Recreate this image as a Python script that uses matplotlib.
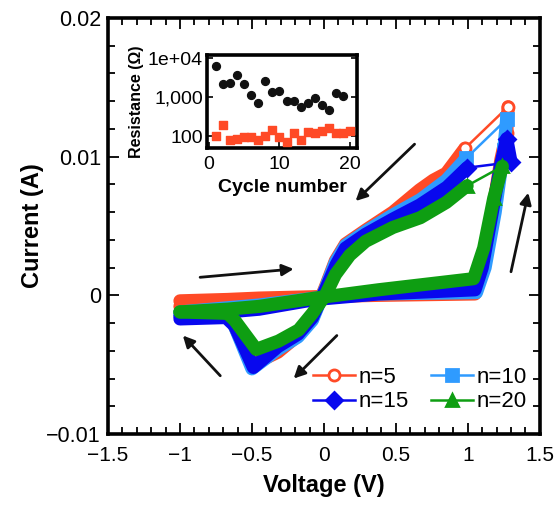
import numpy as np
import matplotlib
matplotlib.use("Agg")
import matplotlib.pyplot as plt
from matplotlib.ticker import MultipleLocator, FixedLocator, FixedFormatter

plt.rcParams['font.family'] = ['Liberation Sans', 'DejaVu Sans']

# I-V sweeps (voltage in V, current in A)
v_n5 = [-1.0, -0.67, -0.45, -0.06, 0.38, 1.05, 1.1, 1.17, 1.23, 1.27, 1.28,
        0.98, 0.85, 0.76, 0.665, 0.48, 0.29, 0.15, 0.08, 0.01, -0.08, -0.18,
        -0.32, -0.5, -0.63, -0.68, -1.0]
i_n5 = [-0.0004, -0.0003, -0.0002, -0.0001, 0.0, 0.0001, 0.002, 0.006, 0.0098,
        0.0117, 0.0136, 0.0106, 0.0088, 0.0083, 0.0076, 0.006, 0.0047, 0.0037,
        0.0025, 0.0006, -0.0017, -0.0029, -0.0041, -0.005, -0.002, -0.0012, -0.0008]

v_n10 = [-1.0, -0.67, -0.45, -0.06, 0.38, 1.06, 1.12, 1.19, 1.25, 1.27,
         0.99, 0.85, 0.67, 0.48, 0.29, 0.15, 0.08, 0.01, -0.08, -0.18, -0.32,
         -0.5, -0.63, -0.68, -1.0]
i_n10 = [-0.0012, -0.0009, -0.0007, -0.0002, 0.0001, 0.0002, 0.002, 0.006, 0.0105,
         0.0127, 0.0099, 0.0083, 0.0069, 0.0058, 0.0046, 0.0036, 0.0024, 0.0005,
         -0.0018, -0.003, -0.0039, -0.0053, -0.002, -0.0014, -0.0014]

v_n15 = [-1.0, -0.67, -0.45, -0.06, 0.38, 1.05, 1.1, 1.17, 1.23, 1.27, 1.30,
         0.995, 0.855, 0.665, 0.48, 0.29, 0.15, 0.085, 0.01, -0.08, -0.18, -0.32,
         -0.49, -0.62, -0.68, -1.0]
i_n15 = [-0.0015, -0.0012, -0.001, -0.0003, 0.0001, 0.0004, 0.002, 0.006, 0.0095,
         0.0113, 0.0096, 0.0092, 0.0078, 0.0065, 0.0055, 0.0044, 0.0034, 0.0022,
         0.0004, -0.0016, -0.0028, -0.0037, -0.0052, -0.0022, -0.0016, -0.0017]

v_n20 = [-1.0, -0.67, -0.45, -0.06, 0.38, 1.04, 1.11, 1.18, 1.24, 0.995, 0.85,
         0.67, 0.48, 0.29, 0.18, 0.08, 0.01, -0.08, -0.175, -0.315, -0.47, -0.62,
         -0.67, -1.0]
i_n20 = [-0.0012, -0.001, -0.0008, -0.0002, 0.0004, 0.0012, 0.0034, 0.007, 0.0093,
         0.0079, 0.0067, 0.0056, 0.0049, 0.0039, 0.0029, 0.0015, 0.0, -0.0013,
         -0.0025, -0.0033, -0.0039, -0.0018, -0.0013, -0.0012]

# inset: resistance per cycle
cycles_hrs = list(range(1, 20))
r_hrs = [6200, 2150, 2300, 3800, 2240, 1170, 710, 2620, 1350, 1420,
         790, 800, 563, 710, 930, 630, 465, 1290, 1060]
cycles_lrs = list(range(1, 21))
r_lrs = [100, 190, 82, 87, 93, 97, 79, 100, 142, 97,
         70, 120, 82, 128, 120, 140, 166, 120, 120, 140]

series = [
    ("n=5", v_n5, i_n5, "#FF4A26", "o", "white"),
    ("n=10", v_n10, i_n10, "#2F9BFF", "s", "#2F9BFF"),
    ("n=15", v_n15, i_n15, "#0808EE", "D", "#0808EE"),
    ("n=20", v_n20, i_n20, "#0E9E12", "^", "#0E9E12"),
]

fig = plt.figure(figsize=(5.55, 5.05), dpi=100)
ax = fig.add_axes([0.1946, 0.1406, 0.778, 0.8238])

handles = []
for label, v, i, col, mk, mfc in series:
    v = np.asarray(v)
    i = np.asarray(i)
    k = int(np.argmax(v))
    # dense sweeps look like thick bands; the jump back from max bias is sparse
    band = dict(color=col, lw=9.5, solid_capstyle='round', solid_joinstyle='round')
    ax.plot(v[:k + 1], i[:k + 1], **band)
    ax.plot(v[k + 1:], i[k + 1:], **band)
    h, = ax.plot(v, i, color=col, lw=1.8, marker=mk, ms=8, mfc=mfc, mec=col,
                 mew=2, markevery=[k - 1, k, k + 1], label=label)
    handles.append(h)

ax.set_xlim(-1.5, 1.5)
ax.set_ylim(-0.01, 0.02)
ax.xaxis.set_minor_locator(MultipleLocator(0.1))
ax.yaxis.set_minor_locator(MultipleLocator(0.002))
ax.set_xticks([-1.5, -1, -0.5, 0, 0.5, 1, 1.5])
ax.set_xticklabels(["\u22121.5", "\u22121", "\u22120.5", "0", "0.5", "1", "1.5"])
ax.set_yticks([-0.01, 0, 0.01, 0.02])
ax.set_yticklabels(["\u22120.01", "0", "0.01", "0.02"])
ax.tick_params(which='both', direction='in', top=True, right=True,
               labelsize=15.5, width=1.3)
ax.tick_params(axis='x', pad=9, labelsize=15)
ax.tick_params(axis='y', pad=5)
ax.tick_params(which='major', length=8)
ax.tick_params(which='minor', length=5)
for s in ax.spines.values():
    s.set_linewidth(2.6)
ax.set_xlabel("Voltage (V)", fontsize=17, fontweight='bold', labelpad=6)
ax.set_ylabel("Current (A)", fontsize=17, fontweight='bold', labelpad=2)

# row-wise legend: n=5, n=10 / n=15, n=20
order = [0, 2, 1, 3]
ax.legend([handles[j] for j in order], [series[j][0] for j in order],
          ncol=2, loc='lower right', bbox_to_anchor=(1.0, 0.02),
          frameon=False, fontsize=16, handlelength=1.9,
          handletextpad=0.15, columnspacing=1.0, labelspacing=0.15,
          borderaxespad=0.2)

# sweep direction arrows
arrows = [
    ((0.63, 0.0109), (0.22, 0.0068)),
    ((-0.86, 0.0013), (-0.21, 0.0019)),
    ((1.30, 0.0017), (1.42, 0.0074)),
    ((0.09, -0.0029), (-0.21, -0.006)),
    ((-0.72, -0.0058), (-0.98, -0.0029)),
]
for start, end in arrows:
    ax.annotate("", xy=end, xytext=start,
                arrowprops=dict(arrowstyle='-|>', color='#111111', lw=2,
                                mutation_scale=17, shrinkA=0, shrinkB=0))

# inset
ins = fig.add_axes([0.373, 0.707, 0.270, 0.184])
ins.scatter(cycles_hrs, r_hrs, s=32, color='#111111', zorder=3)
ins.scatter(cycles_lrs, r_lrs, s=32, marker='s', color='#FF4A26', zorder=3)
ins.set_yscale('log')
ins.set_xlim(-0.3, 21)
ins.set_ylim(50, 12000)
ins.xaxis.set_major_locator(FixedLocator([0, 10, 20]))
ins.yaxis.set_major_locator(FixedLocator([100, 1000, 10000]))
ins.yaxis.set_major_formatter(FixedFormatter(["100", "1,000", "1e+04"]))
ins.yaxis.set_minor_locator(FixedLocator([]))
ins.tick_params(which='both', direction='in', right=True, top=False,
                labelsize=14, length=4, width=1.2)
ins.tick_params(axis='x', pad=6)
ins.tick_params(axis='y', pad=3)
for s in ins.spines.values():
    s.set_linewidth(2.6)
ins.set_xlabel("Cycle number", fontsize=14, fontweight='bold', labelpad=4)
ins.set_ylabel("Resistance (\u03a9)", fontsize=11.5, fontweight='bold', labelpad=3)

fig.savefig("out.png", dpi=100)
